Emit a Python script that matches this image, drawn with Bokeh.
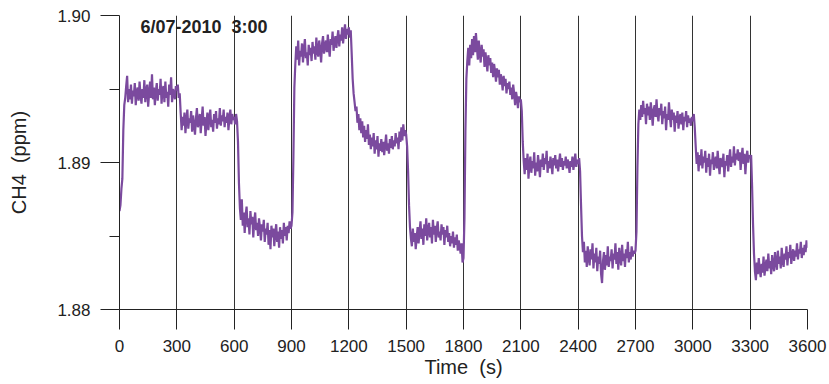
from bokeh.plotting import figure
from bokeh.models import Range1d, FixedTicker, PrintfTickFormatter, Label
from bokeh.embed import file_html
from bokeh.resources import INLINE

seg_0000 = [1.8867, 1.8871, 1.8882, 1.8889, 1.8922, 1.8939, 1.8944, 1.8952, 1.8959, 1.8941, 1.8950, 1.8943,
            1.8953, 1.8940, 1.8949, 1.8945, 1.8954, 1.8939, 1.8948, 1.8951, 1.8942, 1.8955, 1.8946, 1.8940,
            1.8950, 1.8944, 1.8956, 1.8941, 1.8949, 1.8953, 1.8938, 1.8947, 1.8955, 1.8944, 1.8960, 1.8943,
            1.8951, 1.8939, 1.8948, 1.8954, 1.8942, 1.8950, 1.8946, 1.8957, 1.8940, 1.8949, 1.8952, 1.8941,
            1.8955, 1.8944, 1.8948, 1.8938, 1.8953, 1.8946, 1.8958, 1.8941, 1.8950, 1.8947, 1.8943, 1.8952]
seg_0300 = [1.8949, 1.8953, 1.8944, 1.8947, 1.8934, 1.8922, 1.8931, 1.8925, 1.8934, 1.8920, 1.8929, 1.8936,
            1.8923, 1.8930, 1.8927, 1.8935, 1.8921, 1.8932, 1.8926, 1.8919, 1.8930, 1.8937, 1.8924, 1.8928,
            1.8933, 1.8920, 1.8929, 1.8938, 1.8925, 1.8931, 1.8918, 1.8927, 1.8934, 1.8922, 1.8930, 1.8936,
            1.8924, 1.8929, 1.8921, 1.8933, 1.8927, 1.8935, 1.8923, 1.8930, 1.8926, 1.8937, 1.8925, 1.8932,
            1.8928, 1.8936, 1.8924, 1.8931, 1.8927, 1.8934, 1.8922, 1.8930, 1.8936, 1.8926, 1.8933, 1.8929]
seg_0600 = [1.8931, 1.8926, 1.8933, 1.8928, 1.8914, 1.8886, 1.8869, 1.8861, 1.8875, 1.8857, 1.8866, 1.8852,
            1.8864, 1.8870, 1.8856, 1.8862, 1.8851, 1.8867, 1.8858, 1.8863, 1.8849, 1.8860, 1.8866, 1.8854,
            1.8859, 1.8850, 1.8862, 1.8856, 1.8847, 1.8858, 1.8853, 1.8861, 1.8846, 1.8855, 1.8851, 1.8859,
            1.8844, 1.8854, 1.8841, 1.8857, 1.8849, 1.8855, 1.8843, 1.8852, 1.8858, 1.8846, 1.8853, 1.8842,
            1.8856, 1.8848, 1.8854, 1.8845, 1.8859, 1.8850, 1.8856, 1.8847, 1.8857, 1.8852, 1.8860, 1.8855]
seg_0900 = [1.8857, 1.8866, 1.8904, 1.8951, 1.8967, 1.8979, 1.8970, 1.8983, 1.8966, 1.8976, 1.8972, 1.8981,
            1.8968, 1.8977, 1.8984, 1.8971, 1.8975, 1.8966, 1.8980, 1.8973, 1.8978, 1.8969, 1.8982, 1.8974,
            1.8979, 1.8970, 1.8985, 1.8976, 1.8972, 1.8983, 1.8977, 1.8968, 1.8981, 1.8986, 1.8974, 1.8979,
            1.8983, 1.8975, 1.8987, 1.8978, 1.8972, 1.8984, 1.8980, 1.8989, 1.8976, 1.8982, 1.8986, 1.8978,
            1.8985, 1.8990, 1.8979, 1.8987, 1.8983, 1.8992, 1.8981, 1.8988, 1.8994, 1.8984, 1.8991, 1.8987]
seg_1200 = [1.8992, 1.8985, 1.8990, 1.8974, 1.8957, 1.8947, 1.8941, 1.8935, 1.8938, 1.8927, 1.8933, 1.8922,
            1.8930, 1.8920, 1.8928, 1.8917, 1.8925, 1.8914, 1.8922, 1.8916, 1.8926, 1.8912, 1.8919, 1.8909,
            1.8917, 1.8911, 1.8920, 1.8906, 1.8915, 1.8909, 1.8918, 1.8904, 1.8913, 1.8908, 1.8916, 1.8907,
            1.8914, 1.8905, 1.8912, 1.8919, 1.8908, 1.8913, 1.8906, 1.8916, 1.8910, 1.8918, 1.8909, 1.8915,
            1.8911, 1.8920, 1.8913, 1.8917, 1.8909, 1.8921, 1.8914, 1.8924, 1.8915, 1.8926, 1.8918, 1.8922]
seg_1500 = [1.8919, 1.8911, 1.8894, 1.8871, 1.8856, 1.8848, 1.8843, 1.8855, 1.8846, 1.8852, 1.8841, 1.8849,
            1.8856, 1.8845, 1.8853, 1.8860, 1.8848, 1.8855, 1.8844, 1.8858, 1.8850, 1.8862, 1.8847, 1.8854,
            1.8859, 1.8849, 1.8856, 1.8845, 1.8861, 1.8851, 1.8857, 1.8846, 1.8855, 1.8860, 1.8849, 1.8853,
            1.8847, 1.8858, 1.8851, 1.8856, 1.8844, 1.8854, 1.8849, 1.8857, 1.8846, 1.8852, 1.8843, 1.8850,
            1.8845, 1.8853, 1.8842, 1.8849, 1.8844, 1.8851, 1.8840, 1.8847, 1.8843, 1.8838, 1.8845, 1.8832]
seg_1800 = [1.8835, 1.8862, 1.8921, 1.8957, 1.8969, 1.8978, 1.8966, 1.8980, 1.8971, 1.8984, 1.8973, 1.8986,
            1.8975, 1.8988, 1.8979, 1.8970, 1.8983, 1.8974, 1.8968, 1.8980, 1.8972, 1.8977, 1.8965, 1.8975,
            1.8969, 1.8962, 1.8973, 1.8966, 1.8971, 1.8961, 1.8968, 1.8958, 1.8967, 1.8962, 1.8955, 1.8964,
            1.8958, 1.8963, 1.8953, 1.8960, 1.8956, 1.8949, 1.8959, 1.8952, 1.8957, 1.8947, 1.8954, 1.8950,
            1.8955, 1.8946, 1.8951, 1.8943, 1.8953, 1.8947, 1.8939, 1.8948, 1.8944, 1.8937, 1.8945, 1.8941]
seg_2100 = [1.8943, 1.8935, 1.8914, 1.8901, 1.8892, 1.8903, 1.8895, 1.8906, 1.8889, 1.8899, 1.8904, 1.8893,
            1.8901, 1.8896, 1.8907, 1.8891, 1.8900, 1.8894, 1.8905, 1.8898, 1.8890, 1.8902, 1.8897, 1.8906,
            1.8895, 1.8903, 1.8899, 1.8908, 1.8893, 1.8901, 1.8896, 1.8904, 1.8899, 1.8892, 1.8903, 1.8898,
            1.8905, 1.8896, 1.8902, 1.8894, 1.8900, 1.8906, 1.8897, 1.8903, 1.8895, 1.8901, 1.8898, 1.8904,
            1.8896, 1.8902, 1.8899, 1.8893, 1.8901, 1.8897, 1.8904, 1.8895, 1.8900, 1.8906, 1.8897, 1.8902]
seg_2400 = [1.8899, 1.8903, 1.8894, 1.8871, 1.8850, 1.8839, 1.8846, 1.8832, 1.8840, 1.8829, 1.8843, 1.8835,
            1.8830, 1.8841, 1.8834, 1.8845, 1.8828, 1.8838, 1.8832, 1.8842, 1.8826, 1.8836, 1.8831, 1.8840,
            1.8824, 1.8818, 1.8833, 1.8839, 1.8827, 1.8837, 1.8830, 1.8843, 1.8829, 1.8836, 1.8833, 1.8841,
            1.8828, 1.8838, 1.8834, 1.8845, 1.8831, 1.8839, 1.8827, 1.8842, 1.8835, 1.8830, 1.8844, 1.8833,
            1.8838, 1.8829, 1.8841, 1.8835, 1.8846, 1.8832, 1.8839, 1.8834, 1.8843, 1.8836, 1.8840, 1.8838]
seg_2700 = [1.8840, 1.8853, 1.8896, 1.8926, 1.8936, 1.8929, 1.8939, 1.8931, 1.8942, 1.8933, 1.8937, 1.8926,
            1.8940, 1.8932, 1.8938, 1.8929, 1.8941, 1.8934, 1.8925, 1.8936, 1.8939, 1.8931, 1.8943, 1.8933,
            1.8928, 1.8937, 1.8932, 1.8940, 1.8926, 1.8935, 1.8930, 1.8938, 1.8922, 1.8933, 1.8929, 1.8941,
            1.8931, 1.8924, 1.8936, 1.8929, 1.8934, 1.8921, 1.8932, 1.8927, 1.8935, 1.8923, 1.8930, 1.8933,
            1.8926, 1.8934, 1.8922, 1.8931, 1.8928, 1.8935, 1.8924, 1.8932, 1.8927, 1.8930, 1.8925, 1.8931]
seg_3000 = [1.8928, 1.8933, 1.8924, 1.8911, 1.8899, 1.8907, 1.8894, 1.8905, 1.8898, 1.8909, 1.8896, 1.8904,
            1.8900, 1.8908, 1.8893, 1.8903, 1.8897, 1.8906, 1.8891, 1.8902, 1.8899, 1.8907, 1.8895, 1.8901,
            1.8904, 1.8896, 1.8908, 1.8899, 1.8892, 1.8903, 1.8900, 1.8897, 1.8906, 1.8890, 1.8901, 1.8898,
            1.8905, 1.8894, 1.8902, 1.8909, 1.8897, 1.8904, 1.8900, 1.8911, 1.8898, 1.8906, 1.8902, 1.8909,
            1.8901, 1.8907, 1.8895, 1.8904, 1.8910, 1.8899, 1.8906, 1.8892, 1.8903, 1.8908, 1.8900, 1.8905]
seg_3300 = [1.8903, 1.8905, 1.8884, 1.8858, 1.8838, 1.8826, 1.8820, 1.8832, 1.8824, 1.8835, 1.8827, 1.8822,
            1.8831, 1.8825, 1.8836, 1.8823, 1.8829, 1.8834, 1.8826, 1.8838, 1.8828, 1.8833, 1.8824, 1.8837,
            1.8830, 1.8826, 1.8839, 1.8832, 1.8827, 1.8840, 1.8831, 1.8836, 1.8828, 1.8842, 1.8833, 1.8829,
            1.8838, 1.8834, 1.8843, 1.8830, 1.8839, 1.8835, 1.8844, 1.8831, 1.8837, 1.8841, 1.8833, 1.8840,
            1.8836, 1.8845, 1.8834, 1.8841, 1.8838, 1.8846, 1.8835, 1.8842, 1.8837, 1.8844, 1.8839, 1.8847,
            1.8842]

sample_step_s = 5
x_ticks = [0, 300, 600, 900, 1200, 1500, 1800, 2100, 2400, 2700, 3000, 3300, 3600]
y_ticks = [1.88, 1.89, 1.90]
y_minor_ticks = [1.885, 1.895]
stamp_text = "6/07-2010\u00a0 3:00"
x_title = "Time\u00a0 (s)"
y_title = "CH4\u00a0 (ppm)"

ch4 = (seg_0000 + seg_0300 + seg_0600 + seg_0900 + seg_1200 + seg_1500 +
       seg_1800 + seg_2100 + seg_2400 + seg_2700 + seg_3000 + seg_3300)
time_s = [sample_step_s * i for i in range(len(ch4))]

FONT = "Liberation Sans"
TXT = "#222222"

p = figure(width=829, height=384, output_backend="svg", toolbar_location=None,
           x_range=Range1d(0, 3600), y_range=Range1d(1.88, 1.90),
           min_border_left=119, min_border_right=22, min_border_top=15, min_border_bottom=75)
p.background_fill_color = "white"
p.border_fill_color = "white"
p.outline_line_color = None

p.line(time_s, ch4, line_color="#7b4a9e", line_width=2.2)

# x axis
p.xaxis.ticker = FixedTicker(ticks=x_ticks)
p.xaxis.major_tick_out = 20
p.xaxis.major_tick_in = 0
p.xaxis.minor_tick_line_color = None
p.xaxis.axis_line_color = TXT
p.xaxis.major_tick_line_color = TXT
p.xaxis.major_label_text_font = FONT
p.xaxis.major_label_text_font_size = "17px"
p.xaxis.major_label_text_color = TXT
p.xaxis.major_label_standoff = 10
p.xaxis.axis_label = x_title
p.xaxis.axis_label_text_font = FONT
p.xaxis.axis_label_text_font_size = "20px"
p.xaxis.axis_label_text_font_style = "normal"
p.xaxis.axis_label_text_color = TXT
p.xaxis.axis_label_standoff = 1

# y axis
p.yaxis.ticker = FixedTicker(ticks=y_ticks, minor_ticks=y_minor_ticks)
p.yaxis.formatter = PrintfTickFormatter(format="%.2f")
p.yaxis.major_tick_out = 19
p.yaxis.major_tick_in = 0
p.yaxis.minor_tick_out = 10
p.yaxis.minor_tick_in = 0
p.yaxis.axis_line_color = TXT
p.yaxis.major_tick_line_color = TXT
p.yaxis.minor_tick_line_color = TXT
p.yaxis.major_label_text_font = FONT
p.yaxis.major_label_text_font_size = "17px"
p.yaxis.major_label_text_color = TXT
p.yaxis.major_label_standoff = 10
p.yaxis.axis_label = y_title
p.yaxis.axis_label_text_font = FONT
p.yaxis.axis_label_text_font_size = "20px"
p.yaxis.axis_label_text_font_style = "normal"
p.yaxis.axis_label_text_color = TXT
p.yaxis.axis_label_standoff = 24

# grid: vertical lines only
p.xgrid.grid_line_color = "#333333"
p.xgrid.grid_line_width = 1
p.ygrid.grid_line_color = None

p.add_layout(Label(x=110, y=1.8992, text=stamp_text, text_font=FONT,
                   text_font_size="18px", text_font_style="bold", text_color=TXT,
                   text_baseline="middle", text_align="left"))

open("out.html", "w").write(file_html(p, INLINE))
